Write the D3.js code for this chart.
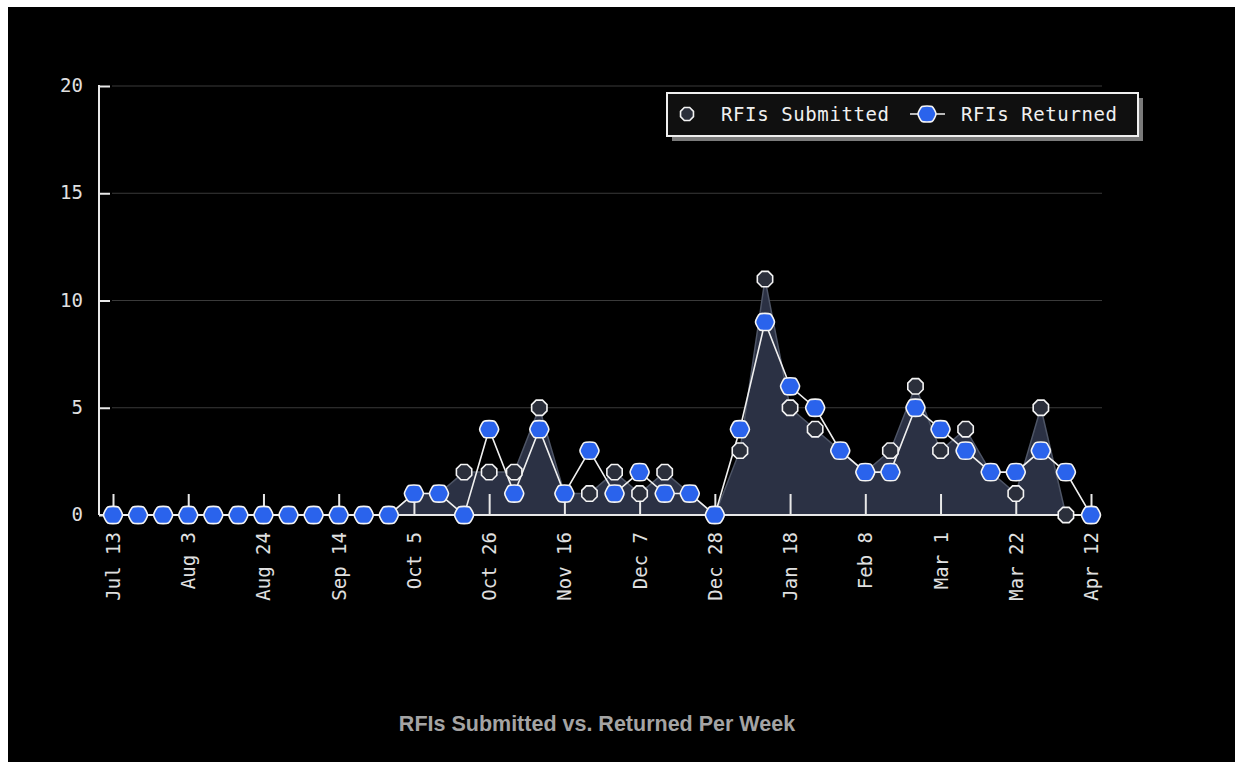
<!DOCTYPE html>
<html><head><meta charset="utf-8">
<script src="https://cdn.jsdelivr.net/npm/d3@7"></script>
<style>
html,body{margin:0;padding:0;background:#fff;}
svg{display:block;}
</style></head>
<body>
<svg id="chart" width="1235" height="762"></svg>
<script>
const weeks = ["Jul 13","Jul 20","Jul 27","Aug 3","Aug 10","Aug 17","Aug 24","Aug 31","Sep 7","Sep 14","Sep 21","Sep 28","Oct 5","Oct 12","Oct 19","Oct 26","Nov 2","Nov 9","Nov 16","Nov 23","Nov 30","Dec 7","Dec 14","Dec 21","Dec 28","Jan 4","Jan 11","Jan 18","Jan 25","Feb 1","Feb 8","Feb 15","Feb 22","Mar 1","Mar 8","Mar 15","Mar 22","Mar 29","Apr 5","Apr 12"];
const submitted = [0,0,0,0,0,0,0,0,0,0,0,0,1,1,2,2,2,5,1,1,2,1,2,1,0,3,11,5,4,3,2,3,6,3,4,2,1,5,0,0];
const returned  = [0,0,0,0,0,0,0,0,0,0,0,0,1,1,0,4,1,4,1,3,1,2,1,1,0,4,9,6,5,3,2,2,5,4,3,2,2,3,2,0];
const tickLabels = ["Jul 13","Aug 3","Aug 24","Sep 14","Oct 5","Oct 26","Nov 16","Dec 7","Dec 28","Jan 18","Feb 8","Mar 1","Mar 22","Apr 12"];
const yTicks = [0,5,10,15,20];
const seriesNames = ["RFIs Submitted","RFIs Returned"];
const title = "RFIs Submitted vs. Returned Per Week";

const svg = d3.select("#chart");
svg.append("rect").attr("x",0).attr("y",0).attr("width",1235).attr("height",762).attr("fill","#fff");
svg.append("rect").attr("x",8).attr("y",7).attr("width",1227).attr("height",755).attr("fill","#000");

const x = d3.scalePoint().domain(weeks).range([113,1091]);
const y = d3.scaleLinear().domain([0,20]).range([515,86]);
const mono = "'DejaVu Sans Mono', 'Liberation Mono', monospace";

// gridlines
svg.append("g").selectAll("line").data(yTicks.filter(d=>d>0)).join("line")
  .attr("x1",112).attr("x2",1102).attr("y1",d=>y(d)).attr("y2",d=>y(d))
  .attr("stroke","#3a3a3a").attr("stroke-width",1.2);

// y axis
const yAxis = d3.axisRight(y).tickValues(yTicks).tickSize(11).tickPadding(0).tickFormat("");
const ya = svg.append("g").attr("transform","translate(99,0)").call(yAxis);
ya.select(".domain").attr("stroke","#e8e8e8").attr("stroke-width",2).attr("d",`M0,${y(20)-1}V${y(0)}`);
ya.selectAll(".tick line").attr("stroke","#e8e8e8").attr("stroke-width",2);
svg.append("g").selectAll("text").data(yTicks).join("text")
  .attr("x",83).attr("y",d=>y(d)+6).attr("text-anchor","end")
  .attr("font-family",mono).attr("font-size",19).attr("fill","#e0e0e0").text(d=>d);

// area for submitted
const area = d3.area().x((d,i)=>x(weeks[i])).y0(y(0)).y1(d=>y(d));
svg.append("path").datum(submitted).attr("d",area)
  .attr("fill","#2b3144").attr("stroke","#4e5566").attr("stroke-width",1.5);

// x axis ticks (pointing up)
const xAxis = d3.axisTop(x).tickValues(tickLabels).tickSize(21).tickFormat("");
const xa = svg.append("g").attr("transform",`translate(0,${y(0)})`).call(xAxis);
xa.select(".domain").remove();
xa.selectAll(".tick line").attr("stroke","#e8e8e8").attr("stroke-width",2);
svg.append("line").attr("x1",99).attr("x2",1100).attr("y1",y(0)).attr("y2",y(0))
  .attr("stroke","#e8e8e8").attr("stroke-width",2);

// x labels rotated
svg.append("g").selectAll("text").data(tickLabels).join("text")
  .attr("transform",d=>`translate(${x(d)+7},532) rotate(-90)`)
  .attr("text-anchor","end")
  .attr("font-family",mono).attr("font-size",19).attr("fill","#e0e0e0").text(d=>d);

// returned line
const line = d3.line().x((d,i)=>x(weeks[i])).y(d=>y(d));
svg.append("path").datum(returned).attr("d",line)
  .attr("fill","none").attr("stroke","#f0f0f0").attr("stroke-width",1.6);

function octagon(r){
  const pts = d3.range(8).map(k=>{const a=Math.PI/8+k*Math.PI/4;return [r*Math.cos(a),r*Math.sin(a)];});
  return d3.line()(pts)+"Z";
}
function blueShape(rx,ry){
  const pts=[[-rx,0],[-rx*0.55,-ry],[rx*0.55,-ry],[rx,0],[rx*0.55,ry],[-rx*0.55,ry]];
  return d3.line().curve(d3.curveCardinalClosed.tension(0.4))(pts);
}

svg.append("g").selectAll("path").data(submitted).join("path")
  .attr("d",octagon(8.3))
  .attr("transform",(d,i)=>`translate(${x(weeks[i])},${y(d)})`)
  .attr("fill","#2b2f3b").attr("stroke","#f4f4f4").attr("stroke-width",1.6);

svg.append("g").selectAll("path").data(returned).join("path")
  .attr("d",blueShape(9.5,8))
  .attr("transform",(d,i)=>`translate(${x(weeks[i])},${y(d)})`)
  .attr("fill","#2a63ec").attr("stroke","#f4f4f4").attr("stroke-width",1.6);

// legend
const lg = svg.append("g");
lg.append("rect").attr("x",672).attr("y",98).attr("width",471).attr("height",43).attr("fill","#7a7a7a");
lg.append("rect").attr("x",667).attr("y",93).attr("width",471).attr("height",43)
  .attr("fill","#101010").attr("stroke","#f0f0f0").attr("stroke-width",2);
lg.append("path").attr("d",octagon(7)).attr("transform","translate(687,114)")
  .attr("fill","#2b2f3b").attr("stroke","#f4f4f4").attr("stroke-width",1.6);
lg.append("text").attr("x",721).attr("y",121).attr("font-family",mono).attr("font-size",19)
  .attr("textLength",168).attr("fill","#f0f0f0").text(seriesNames[0]);
lg.append("line").attr("x1",910).attr("x2",945).attr("y1",114).attr("y2",114)
  .attr("stroke","#f0f0f0").attr("stroke-width",1.6);
lg.append("path").attr("d",blueShape(9,7.5)).attr("transform","translate(927,114)")
  .attr("fill","#2a63ec").attr("stroke","#f4f4f4").attr("stroke-width",1.6);
lg.append("text").attr("x",961).attr("y",121).attr("font-family",mono).attr("font-size",19)
  .attr("textLength",156).attr("fill","#f0f0f0").text(seriesNames[1]);

// title
svg.append("text").attr("x",597).attr("y",731).attr("text-anchor","middle")
  .attr("font-family","'Liberation Sans', Arial, sans-serif").attr("font-size",21.5)
  .attr("font-weight","bold").attr("fill","#a4a4a4").text(title);
</script>
</body></html>
